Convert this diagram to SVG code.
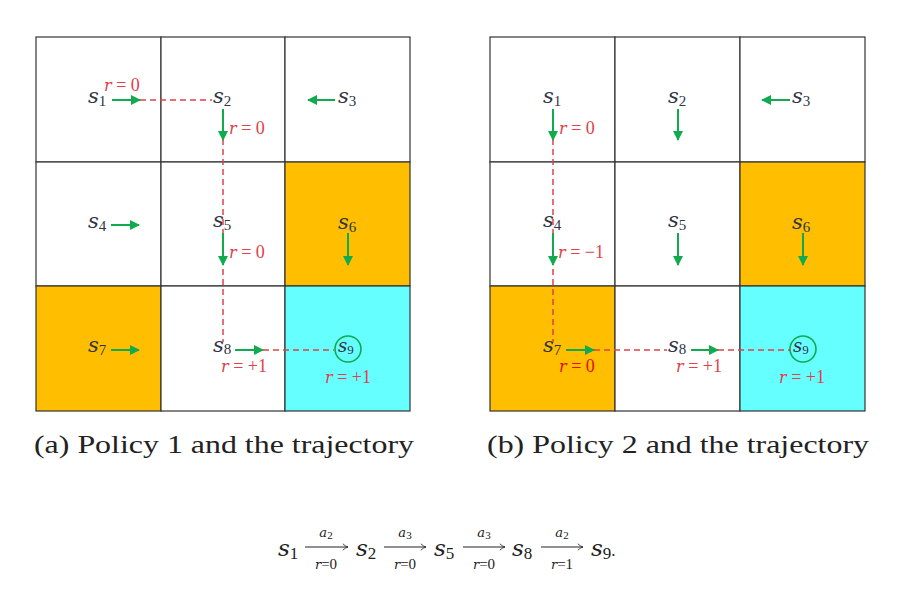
<svg xmlns="http://www.w3.org/2000/svg" width="912" height="593" viewBox="0 0 912 593">
<defs>
<marker id="gh" viewBox="0 0 10 10" refX="9" refY="5" markerWidth="5" markerHeight="5" orient="auto" markerUnits="strokeWidth">
<path d="M0,0 L10,5 L0,10 Z" fill="#11aa4e"/>
</marker>
<marker id="oh" viewBox="0 0 10 10" refX="9.5" refY="5" markerWidth="8" markerHeight="8" orient="auto" markerUnits="userSpaceOnUse">
<path d="M3,1 Q6,4 9.5,5 Q6,6 3,9" fill="none" stroke="#222" stroke-width="1"/>
</marker>
</defs>
<style>
.cell{stroke:#333;stroke-width:1.2}
.w{fill:#fff}.o{fill:#ffbf00}.c{fill:#66ffff}
.s{font-family:"DejaVu Serif","Liberation Serif",serif;font-style:italic;font-size:21px;fill:#2f3545}
.sub{font-family:"Liberation Serif",serif;font-style:normal;font-size:15px}
.r{font-family:"Liberation Serif",serif;font-size:18px;fill:#e0404a}
.ri{font-family:"DejaVu Serif","Liberation Serif",serif;font-style:italic;font-size:16px}
.g{stroke:#11aa4e;stroke-width:2;fill:none;marker-end:url(#gh)}
.d{stroke:#e0404a;stroke-width:1.5;stroke-dasharray:6 4;fill:none}
.goal{fill:none;stroke:#11aa4e;stroke-width:1.6}
.cap{font-family:"Liberation Serif",serif;font-size:26px;fill:#222}
.f{font-family:"DejaVu Serif","Liberation Serif",serif;font-style:italic;font-size:23px;fill:#222}
.fsub{font-family:"Liberation Serif",serif;font-style:normal;font-size:17px}
.fs{font-family:"Liberation Serif",serif;font-size:15px;fill:#222}
.fsi{font-family:"DejaVu Serif","Liberation Serif",serif;font-style:italic;font-size:13px}
.fa{stroke:#222;stroke-width:1;fill:none;marker-end:url(#oh)}
</style>
<rect width="912" height="593" fill="#fff"/>

<!-- Left grid cells -->
<g id="L-s1"><rect class="cell w" x="36" y="37" width="125" height="125"/><text class="s" x="88" y="103">s<tspan class="sub" dy="3">1</tspan></text></g>
<g id="L-s2"><rect class="cell w" x="161" y="37" width="124" height="125"/><text class="s" x="213" y="103">s<tspan class="sub" dy="3">2</tspan></text></g>
<g id="L-s3"><rect class="cell w" x="285" y="37" width="125" height="125"/><text class="s" x="338" y="103">s<tspan class="sub" dy="3">3</tspan></text></g>
<g id="L-s4"><rect class="cell w" x="36" y="162" width="125" height="124"/><text class="s" x="88" y="228">s<tspan class="sub" dy="3">4</tspan></text></g>
<g id="L-s5"><rect class="cell w" x="161" y="162" width="124" height="124"/><text class="s" x="213" y="227">s<tspan class="sub" dy="3">5</tspan></text></g>
<g id="L-s6"><rect class="cell o" x="285" y="162" width="125" height="124"/><text class="s" x="338" y="229">s<tspan class="sub" dy="3">6</tspan></text></g>
<g id="L-s7"><rect class="cell o" x="36" y="286" width="125" height="125"/><text class="s" x="88" y="352">s<tspan class="sub" dy="3">7</tspan></text></g>
<g id="L-s8"><rect class="cell w" x="161" y="286" width="124" height="125"/><text class="s" x="213" y="352">s<tspan class="sub" dy="2">8</tspan></text></g>
<g id="L-s9"><rect class="cell c" x="285" y="286" width="125" height="125"/><circle class="goal" cx="348" cy="349" r="13"/><text class="s" x="338" y="352" style="font-size:18px">s<tspan class="sub" dy="2" style="font-size:13px">9</tspan></text></g>

<!-- Right grid cells -->
<g id="R-s1"><rect class="cell w" x="490" y="37" width="125" height="125"/><text class="s" x="543" y="103">s<tspan class="sub" dy="3">1</tspan></text></g>
<g id="R-s2"><rect class="cell w" x="615" y="37" width="125" height="125"/><text class="s" x="668" y="103">s<tspan class="sub" dy="3">2</tspan></text></g>
<g id="R-s3"><rect class="cell w" x="740" y="37" width="125" height="125"/><text class="s" x="792" y="103">s<tspan class="sub" dy="3">3</tspan></text></g>
<g id="R-s4"><rect class="cell w" x="490" y="162" width="125" height="124"/><text class="s" x="543" y="227">s<tspan class="sub" dy="3">4</tspan></text></g>
<g id="R-s5"><rect class="cell w" x="615" y="162" width="125" height="124"/><text class="s" x="668" y="227">s<tspan class="sub" dy="3">5</tspan></text></g>
<g id="R-s6"><rect class="cell o" x="740" y="162" width="125" height="124"/><text class="s" x="792" y="229">s<tspan class="sub" dy="3">6</tspan></text></g>
<g id="R-s7"><rect class="cell o" x="490" y="286" width="125" height="125"/><text class="s" x="543" y="352">s<tspan class="sub" dy="3">7</tspan></text></g>
<g id="R-s8"><rect class="cell w" x="615" y="286" width="125" height="125"/><text class="s" x="668" y="352">s<tspan class="sub" dy="2">8</tspan></text></g>
<g id="R-s9"><rect class="cell c" x="740" y="286" width="125" height="125"/><circle class="goal" cx="803" cy="349" r="13"/><text class="s" x="793" y="352" style="font-size:18px">s<tspan class="sub" dy="2" style="font-size:13px">9</tspan></text></g>

<!-- Connectors -->
<g id="connectors">
<path class="d" d="M140,100 H212"/>
<path class="d" d="M223,139 V342"/>
<path class="d" d="M263,350 H334"/>
<path class="d" d="M553,139 V342"/>
<path class="d" d="M594,350 H667"/>
<path class="d" d="M718,350 H790"/>
<line class="g" x1="112" y1="100" x2="140" y2="100"/>
<line class="g" x1="223" y1="109" x2="223" y2="140"/>
<line class="g" x1="335" y1="100" x2="308" y2="100"/>
<line class="g" x1="111" y1="225" x2="139" y2="225"/>
<line class="g" x1="223" y1="233" x2="223" y2="265"/>
<line class="g" x1="348" y1="233" x2="348" y2="265"/>
<line class="g" x1="111" y1="350" x2="139" y2="350"/>
<line class="g" x1="235" y1="350" x2="263" y2="350"/>
<line class="g" x1="553" y1="109" x2="553" y2="140"/>
<line class="g" x1="678" y1="109" x2="678" y2="140"/>
<line class="g" x1="790" y1="100" x2="762" y2="100"/>
<line class="g" x1="553" y1="233" x2="553" y2="265"/>
<line class="g" x1="678" y1="233" x2="678" y2="265"/>
<line class="g" x1="803" y1="233" x2="803" y2="265"/>
<line class="g" x1="566" y1="350" x2="594" y2="350"/>
<line class="g" x1="691" y1="350" x2="718" y2="350"/>
</g>

<!-- reward labels -->
<g id="rewards">
<text class="r" x="104" y="91"><tspan class="ri">r</tspan> = 0</text>
<text class="r" x="229" y="134"><tspan class="ri">r</tspan> = 0</text>
<text class="r" x="229" y="258"><tspan class="ri">r</tspan> = 0</text>
<text class="r" x="221" y="372"><tspan class="ri">r</tspan> = +1</text>
<text class="r" x="325" y="383"><tspan class="ri">r</tspan> = +1</text>
<text class="r" x="559" y="134"><tspan class="ri">r</tspan> = 0</text>
<text class="r" x="558" y="258"><tspan class="ri">r</tspan> = −1</text>
<text class="r" x="559" y="372" style="fill:#e01010"><tspan class="ri">r</tspan> = 0</text>
<text class="r" x="676" y="372"><tspan class="ri">r</tspan> = +1</text>
<text class="r" x="779" y="383"><tspan class="ri">r</tspan> = +1</text>
</g>

<!-- captions -->
<text class="cap" x="34" y="453" textLength="380" lengthAdjust="spacingAndGlyphs">(a) Policy 1 and the trajectory</text>
<text class="cap" x="487" y="453" textLength="382" lengthAdjust="spacingAndGlyphs">(b) Policy 2 and the trajectory</text>

<!-- formula -->
<g id="formula">
<text class="f" x="278" y="556">s<tspan class="fsub" dy="3">1</tspan></text>
<text class="f" x="356" y="556">s<tspan class="fsub" dy="3">2</tspan></text>
<text class="f" x="434" y="556">s<tspan class="fsub" dy="3">5</tspan></text>
<text class="f" x="512" y="556">s<tspan class="fsub" dy="3">8</tspan></text>
<text class="f" x="591" y="556">s<tspan class="fsub" dy="3">9</tspan><tspan class="fsub" dy="-3">.</tspan></text>
<line class="fa" x1="305" y1="547" x2="348" y2="547"/>
<line class="fa" x1="384" y1="547" x2="426" y2="547"/>
<line class="fa" x1="463" y1="547" x2="505" y2="547"/>
<line class="fa" x1="541" y1="547" x2="583" y2="547"/>
<text class="fs" x="326" y="537" text-anchor="middle"><tspan class="fsi">a</tspan><tspan font-size="11" dy="2">2</tspan></text>
<text class="fs" x="405" y="537" text-anchor="middle"><tspan class="fsi">a</tspan><tspan font-size="11" dy="2">3</tspan></text>
<text class="fs" x="484" y="537" text-anchor="middle"><tspan class="fsi">a</tspan><tspan font-size="11" dy="2">3</tspan></text>
<text class="fs" x="562" y="537" text-anchor="middle"><tspan class="fsi">a</tspan><tspan font-size="11" dy="2">2</tspan></text>
<text class="fs" x="326" y="569" text-anchor="middle"><tspan class="fsi">r</tspan>=0</text>
<text class="fs" x="405" y="569" text-anchor="middle"><tspan class="fsi">r</tspan>=0</text>
<text class="fs" x="484" y="569" text-anchor="middle"><tspan class="fsi">r</tspan>=0</text>
<text class="fs" x="562" y="569" text-anchor="middle"><tspan class="fsi">r</tspan>=1</text>
</g>
</svg>
